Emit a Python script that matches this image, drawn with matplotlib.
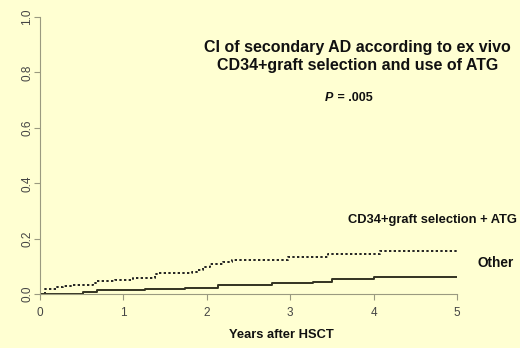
import matplotlib
matplotlib.use("Agg")
import matplotlib.pyplot as plt

# CD34+graft selection + ATG (dotted)
atg_t = [0, 0.06, 0.20, 0.28, 0.40, 0.64, 0.68, 0.90, 1.12, 1.38, 1.41, 1.82, 1.88,
         1.95, 2.04, 2.19, 2.30, 2.97, 3.45, 4.08, 5.0]
atg_ci = [0, 0.017, 0.024, 0.029, 0.032, 0.041, 0.046, 0.052, 0.059, 0.071, 0.076,
          0.081, 0.088, 0.096, 0.108, 0.114, 0.123, 0.135, 0.144, 0.154, 0.154]

# Other (solid)
oth_t = [0, 0.52, 0.68, 1.26, 1.74, 2.13, 2.78, 3.27, 3.50, 4.00, 5.0]
oth_ci = [0, 0.006, 0.013, 0.018, 0.023, 0.034, 0.041, 0.045, 0.053, 0.060, 0.060]

x_ticks = [0, 1, 2, 3, 4, 5]
y_ticks = [0.0, 0.2, 0.4, 0.6, 0.8, 1.0]

bg = "#FFFFD2"
plt.rcParams["font.family"] = ["Liberation Sans", "DejaVu Sans"]

fig = plt.figure(figsize=(5.2, 3.48), dpi=100, facecolor=bg)
ax = fig.add_axes([0.077, 0.155, 0.802, 0.796], facecolor=bg)

ax.plot(atg_t, atg_ci, drawstyle="steps-post", color="#222222", lw=1.4,
        linestyle=(0, (1.2, 1.2)))
ax.plot(oth_t, oth_ci, drawstyle="steps-post", color="#333322", lw=1.4)

ax.set_xlim(0, 5)
ax.set_ylim(0, 1)
ax.set_xticks(x_ticks)
ax.set_yticks(y_ticks)
ax.set_xticklabels([str(v) for v in x_ticks])
ax.set_yticklabels([f"{v:.1f}" for v in y_ticks], rotation=90, va="center")
for s in ["top", "right"]:
    ax.spines[s].set_visible(False)
for s in ["left", "bottom"]:
    ax.spines[s].set_color("#9a9a80")
    ax.spines[s].set_linewidth(0.8)
ax.tick_params(colors="#9a9a80", labelcolor="#444444", labelsize=8.5, length=4,
               width=0.8)
ax.tick_params(axis="y", pad=1)
ax.tick_params(axis="x", pad=5)

ax.set_xlabel("Years after HSCT", fontsize=9.3, fontweight="bold", color="#111111")
ax.xaxis.set_label_coords(0.578, -0.125)

ax.text(3.81, 0.857, "CI of secondary AD according to ex vivo\nCD34+graft selection and use of ATG",
        ha="center", va="center", fontsize=11.5, fontweight="bold", color="#111111",
        linespacing=1.2)
ax.text(3.52, 0.707, "P", ha="right", va="center", fontsize=9,
        fontweight="bold", fontstyle="italic", color="#111111")
ax.text(3.52, 0.707, " = .005", ha="left", va="center", fontsize=9,
        fontweight="bold", color="#111111")
ax.text(3.69, 0.267, "CD34+graft selection + ATG", ha="left", va="center",
        fontsize=9.3, fontweight="bold", color="#111111", clip_on=False)
ax.text(5.24, 0.112, "Other", ha="left", va="center", fontsize=9.8,
        fontweight="bold", color="#111111", clip_on=False)

fig.savefig("out.png", dpi=100, facecolor=bg)
